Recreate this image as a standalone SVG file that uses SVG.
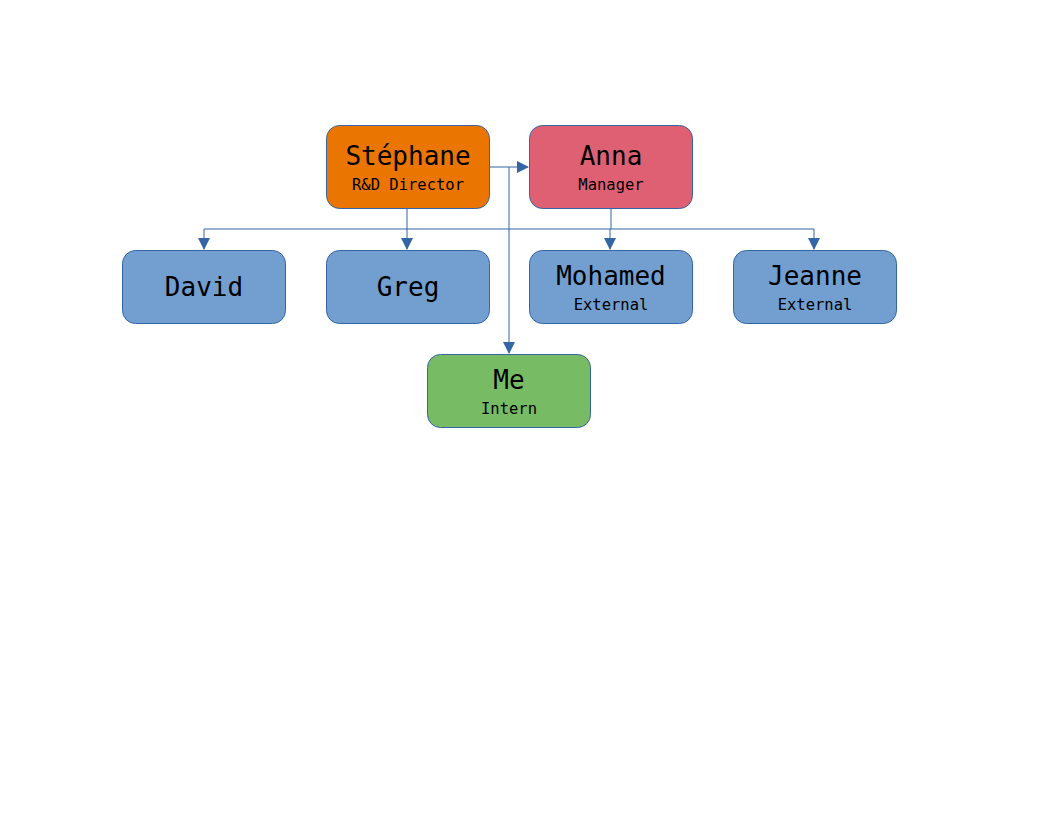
<svg xmlns="http://www.w3.org/2000/svg" width="1056" height="816" viewBox="0 0 1056 816">
<style>
.n{stroke:#3465A4;stroke-width:1}
.t{font-family:"DejaVu Sans Mono","Liberation Mono",monospace;font-size:26px;text-anchor:middle;fill:#000}
.s{font-family:"DejaVu Sans Mono","Liberation Mono",monospace;font-size:15.5px;text-anchor:middle;fill:#000}
.c{fill:none;stroke:#3465A4;stroke-width:1}
</style>
<defs>
<marker id="a" markerWidth="12" markerHeight="12" refX="11" refY="6" orient="auto" markerUnits="userSpaceOnUse">
<path d="M0,0 L12,6 L0,12 Z" fill="#3465A4"/>
</marker>
</defs>
<rect width="1056" height="816" fill="#fff"/>
<g id="connectors">
<path class="c" d="M407,208 V229 M611,208 V229 M204,229 H814"/>
<path class="c" d="M204,229 V249" marker-end="url(#a)"/>
<path class="c" d="M407,229 V249" marker-end="url(#a)"/>
<path class="c" d="M610,229 V249" marker-end="url(#a)"/>
<path class="c" d="M814,229 V249" marker-end="url(#a)"/>
<path class="c" d="M489,167 H528" marker-end="url(#a)"/>
<path class="c" d="M509,167 V353" marker-end="url(#a)"/>
</g>
<g id="stephane">
<rect class="n" x="326.5" y="125.5" width="163" height="83" rx="13" fill="#EA7500"/>
<text class="t" x="408" y="165">Stéphane</text>
<text class="s" x="408" y="190">R&amp;D Director</text>
</g>
<g id="anna">
<rect class="n" x="529.5" y="125.5" width="163" height="83" rx="13" fill="#E06073"/>
<text class="t" x="611" y="165">Anna</text>
<text class="s" x="611" y="190">Manager</text>
</g>
<g id="david">
<rect class="n" x="122.5" y="250.5" width="163" height="73" rx="13" fill="#729FCF"/>
<text class="t" x="204" y="296">David</text>
</g>
<g id="greg">
<rect class="n" x="326.5" y="250.5" width="163" height="73" rx="13" fill="#729FCF"/>
<text class="t" x="408" y="296">Greg</text>
</g>
<g id="mohamed">
<rect class="n" x="529.5" y="250.5" width="163" height="73" rx="13" fill="#729FCF"/>
<text class="t" x="611" y="285">Mohamed</text>
<text class="s" x="611" y="310">External</text>
</g>
<g id="jeanne">
<rect class="n" x="733.5" y="250.5" width="163" height="73" rx="13" fill="#729FCF"/>
<text class="t" x="815" y="285">Jeanne</text>
<text class="s" x="815" y="310">External</text>
</g>
<g id="me">
<rect class="n" x="427.5" y="354.5" width="163" height="73" rx="13" fill="#77BC65"/>
<text class="t" x="509" y="389">Me</text>
<text class="s" x="509" y="414">Intern</text>
</g>
</svg>
